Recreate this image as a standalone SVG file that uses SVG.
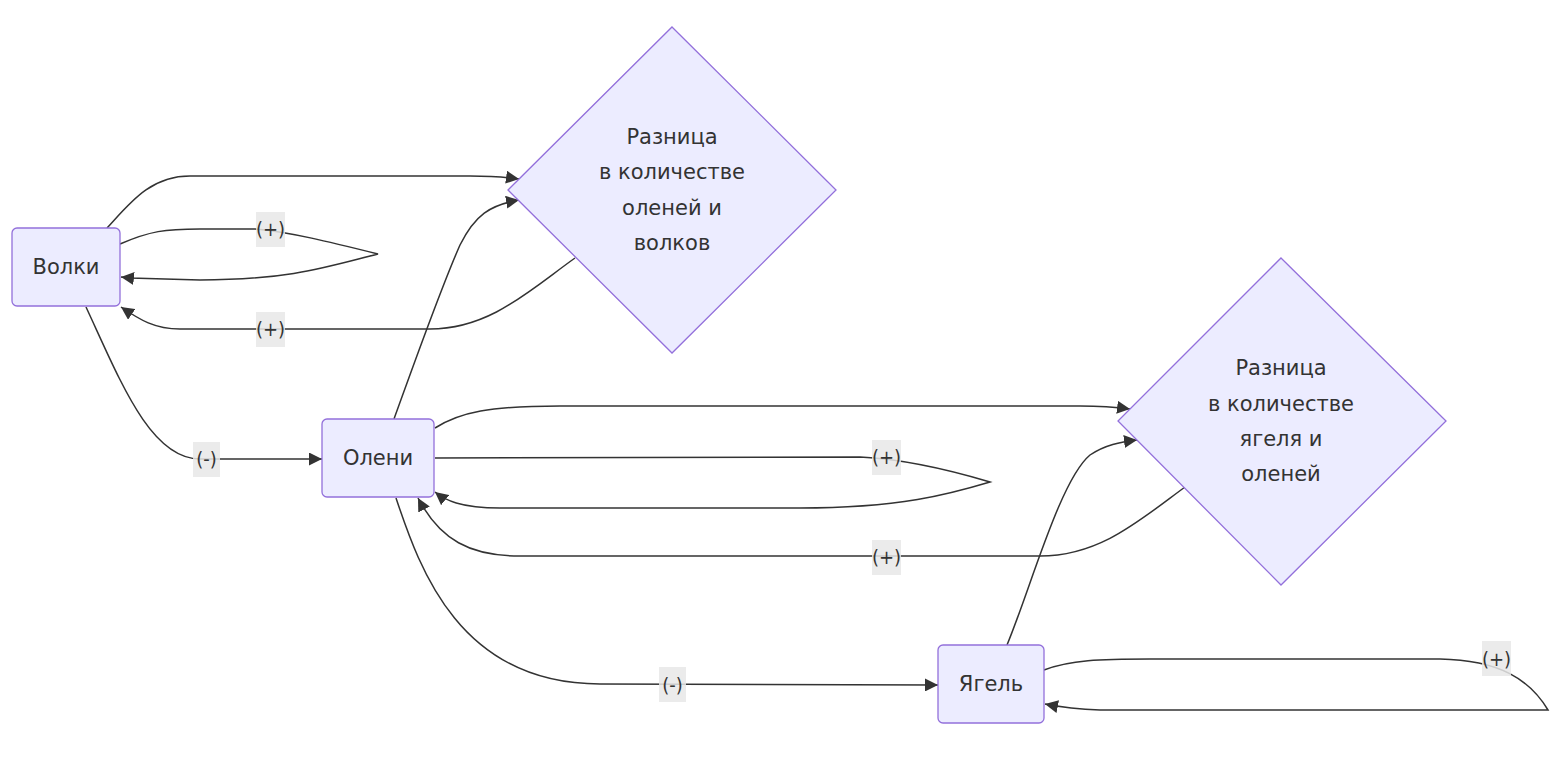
<svg xmlns="http://www.w3.org/2000/svg" width="1560" height="758" viewBox="0 0 1560 758">
<style>
.node rect,.node polygon{fill:#ECECFF;stroke:#9370DB;stroke-width:1.3}
text{font-family:"DejaVu Sans","Noto Sans",sans-serif;font-size:21px;fill:#333;text-anchor:middle;dominant-baseline:central}
.lbl text{font-family:"DejaVu Sans Condensed","DejaVu Sans",sans-serif;font-size:20px}
.edge{fill:none;stroke:#333;stroke-width:1.5}
.lbl rect{fill:#e8e8e8;fill-opacity:0.85}
</style>
<defs>
<marker id="arr" viewBox="0 0 10 10" refX="10" refY="5" markerUnits="userSpaceOnUse" markerWidth="13" markerHeight="13" orient="auto">
<path d="M0,0 L10,5 L0,10 z" fill="#333"/>
</marker>
</defs>
<g id="connectors">
<path class="edge" marker-end="url(#arr)" d="M107,228 C130,203 150,176 190,176 L470,176 C490,176 505,177 519,179"/>
<path class="edge" marker-end="url(#arr)" d="M120,244 C150,231 165,229 200,229 L255,229 C290,232 330,242 378,254 C330,266 290,280 200,280 L130,278 L121,277"/>
<path class="edge" marker-end="url(#arr)" d="M575,258 C530,290 490,329 430,329 L180,329 C155,329 140,320 121,307"/>
<path class="edge" marker-end="url(#arr)" d="M86,307 C120,380 150,459 200,459 L322,459"/>
<path class="edge" marker-end="url(#arr)" d="M394,419 C410,375 440,290 460,245 C475,215 490,205 519,200"/>
<path class="edge" marker-end="url(#arr)" d="M435,428 C460,412 490,406 560,406 L1080,406 C1100,406 1115,407 1130,409"/>
<path class="edge" marker-end="url(#arr)" d="M435,458 L860,457 C900,459 950,470 990,482 C950,494 900,508 800,508 L500,508 C460,508 445,500 435,492"/>
<path class="edge" marker-end="url(#arr)" d="M1185,487 C1140,520 1100,556 1040,556 L520,556 C470,556 440,540 418,498"/>
<path class="edge" marker-end="url(#arr)" d="M396,498 C420,570 460,684 600,684 L938,685"/>
<path class="edge" marker-end="url(#arr)" d="M1007,645 C1030,590 1060,480 1090,455 C1105,445 1120,442 1137,440"/>
<path class="edge" marker-end="url(#arr)" d="M1044,670 C1070,660 1100,659 1150,659 L1440,659 C1500,660 1530,680 1548,710 L1100,710 C1070,709 1055,706 1045,704"/>
</g>
<g id="edge-labels">
<g class="lbl"><rect x="256" y="212" width="29" height="35"/><text x="270.5" y="229">(+)</text></g>
<g class="lbl"><rect x="256" y="312" width="29" height="35"/><text x="270.5" y="329">(+)</text></g>
<g class="lbl"><rect x="193" y="442" width="27" height="35"/><text x="206.5" y="459">(-)</text></g>
<g class="lbl"><rect x="872" y="440" width="29" height="35"/><text x="886.5" y="457">(+)</text></g>
<g class="lbl"><rect x="872" y="540" width="29" height="35"/><text x="886.5" y="557">(+)</text></g>
<g class="lbl"><rect x="659" y="667" width="27" height="35"/><text x="672.5" y="685">(-)</text></g>
<g class="lbl"><rect x="1482" y="641" width="29" height="35"/><text x="1496.5" y="659">(+)</text></g>
</g>
<g id="wolves" class="node"><rect x="12" y="228" width="108" height="78" rx="5"/><text x="66" y="267">Волки</text></g>
<g id="deer" class="node"><rect x="322" y="419" width="112" height="78" rx="5"/><text x="378" y="458">Олени</text></g>
<g id="moss" class="node"><rect x="938" y="645" width="106" height="78" rx="5"/><text x="991" y="684">Ягель</text></g>
<g id="diff1" class="node"><polygon points="672,27 836,190 672,353 508,190"/>
<text x="672" y="137">Разница</text><text x="672" y="172">в количестве</text><text x="672" y="208">оленей и</text><text x="672" y="243">волков</text></g>
<g id="diff2" class="node"><polygon points="1281,258 1446,421 1281,585 1118,421"/>
<text x="1281" y="368">Разница</text><text x="1281" y="404">в количестве</text><text x="1281" y="439">ягеля и</text><text x="1281" y="474">оленей</text></g>
</svg>
